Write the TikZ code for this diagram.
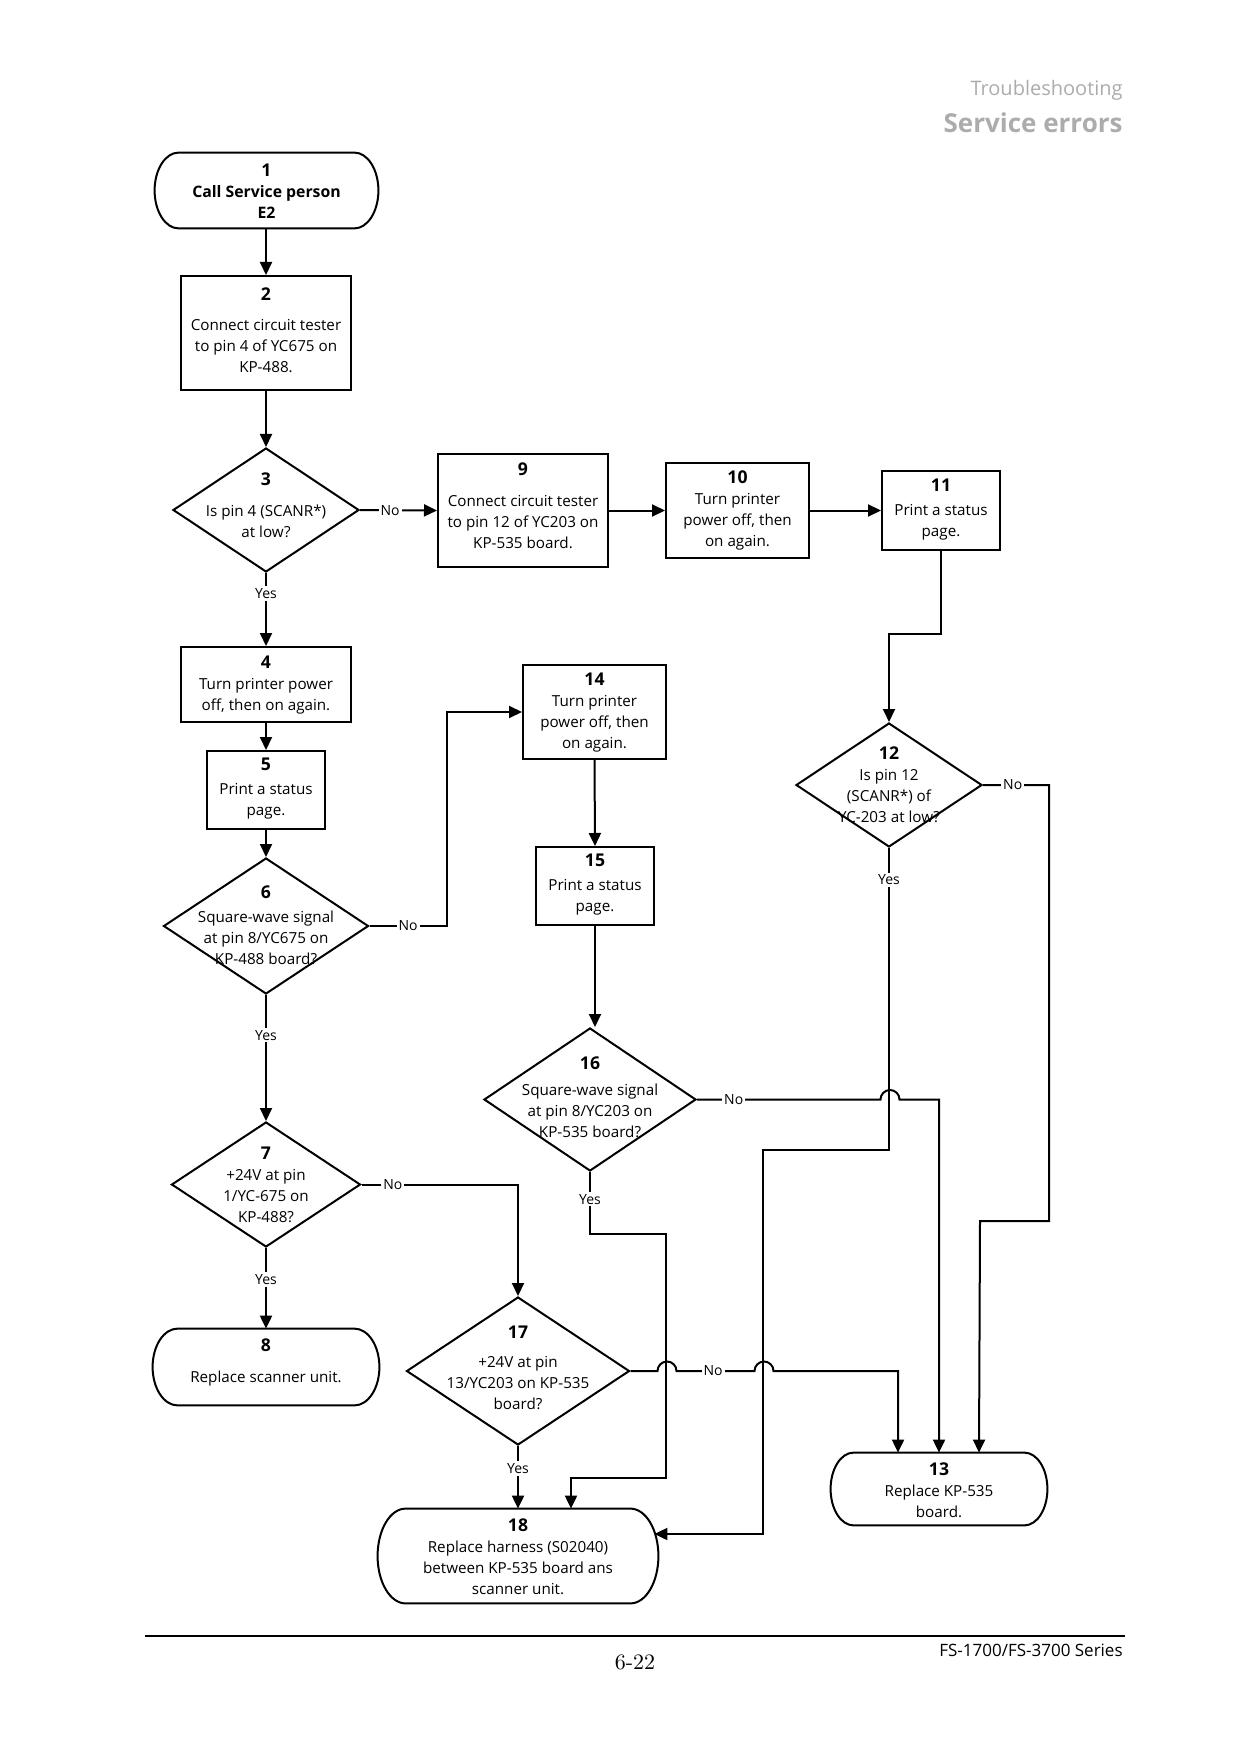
\documentclass[tikz,border=0pt]{standalone}
\usepackage{fontspec}
\setmainfont{Open Sans}
\usetikzlibrary{arrows.meta,shapes.geometric,calc}
\definecolor{hdrgray}{RGB}{172,172,172}
\newcommand\mystadium[2]{%
  \draw[outl] let \p1=(#1.north east), \p2=(#1.south west), \n1={(\y1-\y2)/2} in
    (\x2+#2,\y1) -- (\x1-#2,\y1)
    arc[start angle=90,end angle=-90,x radius=#2,y radius=\n1]
    -- (\x2+#2,\y2)
    arc[start angle=270,end angle=90,x radius=#2,y radius=\n1] -- cycle;}
\newcommand\stepnum[1]{{\fontsize{8.8}{10.5}\selectfont\bfseries #1}}
\tikzset{
  outl/.style={line width=1pt, line join=round},
  box/.style={draw, line width=1pt, rectangle, inner sep=0pt},
  dia/.style={draw, line width=1pt, diamond, inner sep=0pt},
  term/.style={rectangle, inner sep=0pt},
  txt/.style={align=center, font=\fontsize{7.6}{10.5}\selectfont, inner sep=0pt},
  lbl/.style={fill=white, inner sep=1pt, font=\fontsize{7}{8}\selectfont},
  arr/.style={line width=1pt, -{Triangle[length=6.5pt,width=6pt]}},
  ln/.style={line width=1pt},
}
\begin{document}
\begin{tikzpicture}[x=0.5pt,y=-0.5pt]
\useasboundingbox (0,0) rectangle (1240,1754);
% header
\node[anchor=east, text=hdrgray, font=\fontsize{10}{12}\selectfont, inner sep=0pt] (h1) at (1123,90) {Troubleshooting};
\node[anchor=east, text=hdrgray, font=\fontsize{13}{15}\selectfont\bfseries, inner sep=0pt] (h2) at (1123,123) {Service errors};
% footer
\coordinate (fl) at (145,1636);
\coordinate (fr) at (1125,1636);
\draw[line width=0.7pt] (fl) -- (fr);
\node[font=\fontspec{Latin Modern Roman}\fontsize{11}{13}\selectfont, inner sep=0pt] (pg) at (635,1662) {6-22};
\node[anchor=east, font=\fontsize{8.5}{10}\selectfont, inner sep=0pt] (ser) at (1123,1650) {FS-1700/FS-3700 Series};

% terminals
\node[term, minimum width=111.5pt, minimum height=37.5pt] (n1) at (266.5,190.5) {};
\mystadium{n1}{12pt}
\node[txt, font=\fontsize{7.9}{10.5}\selectfont\bfseries] (t1) at (266.5,191.5) {\stepnum{1}\\Call Service person\\E2};

\node[term, minimum width=113pt, minimum height=38pt] (n8) at (266,1367) {};
\mystadium{n8}{12.5pt}
\node[txt] (t8) at (266,1362) {\stepnum{8}\\[5pt]Replace scanner unit.};

\node[term, minimum width=108pt, minimum height=36pt] (n13) at (939,1489) {};
\mystadium{n13}{11.5pt}
\node[txt] (t13) at (939,1490.5) {\stepnum{13}\\Replace KP-535\\board.};

\node[term, minimum width=140pt, minimum height=47pt] (n18) at (518,1556) {};
\mystadium{n18}{14pt}
\node[txt] (t18) at (518,1557) {\stepnum{18}\\Replace harness (S02040)\\between KP-535 board ans\\scanner unit.};

% boxes
\node[box, minimum width=85pt, minimum height=57pt] (b2) at (266,333) {};
\node[txt] (t2) at (266,330) {\stepnum{2}\\[4.5pt]Connect circuit tester\\to pin 4 of YC675 on\\KP-488.};
\node[box, minimum width=85pt, minimum height=37.5pt] (b4) at (266,684.5) {};
\node[txt] (t4) at (266,685) {\stepnum{4}\\Turn printer power\\off, then on again.};
\node[box, minimum width=59pt, minimum height=39pt] (b5) at (266,790) {};
\node[txt] (t5) at (266,789) {\stepnum{5}\\[1.5pt]Print a status\\page.};
\node[box, minimum width=85pt, minimum height=56.5pt] (b9) at (523,510.5) {};
\node[txt] (t9) at (523,506) {\stepnum{9}\\[5pt]Connect circuit tester\\to pin 12 of YC203 on\\KP-535 board.};
\node[box, minimum width=71.5pt, minimum height=47.5pt] (b10) at (737.5,510.5) {};
\node[txt] (t10) at (737.5,510.5) {\stepnum{10}\\Turn printer\\power off, then\\on again.};
\node[box, minimum width=59pt, minimum height=39pt] (b11) at (941,510.5) {};
\node[txt] (t11) at (941,509.5) {\stepnum{11}\\[1.5pt]Print a status\\page.};
\node[box, minimum width=71.5pt, minimum height=47pt] (b14) at (594.5,712) {};
\node[txt] (t14) at (594.5,713) {\stepnum{14}\\Turn printer\\power off, then\\on again.};
\node[box, minimum width=59pt, minimum height=39pt] (b15) at (595,886) {};
\node[txt] (t15) at (595,885) {\stepnum{15}\\[1.5pt]Print a status\\page.};

% diamonds
\node[dia, minimum width=93pt, minimum height=62pt] (d3) at (266,510) {};
\node[txt] (t3) at (266,505.5) {\stepnum{3}\\[5pt]Is pin 4 (SCANR*)\\at low?};
\node[dia, minimum width=102.5pt, minimum height=68pt] (d6) at (266,926) {};
\node[txt] (t6) at (266,925) {\stepnum{6}\\[1.5pt]Square-wave signal\\at pin 8/YC675 on\\KP-488 board?};
\node[dia, minimum width=94.5pt, minimum height=62.5pt] (d7) at (266,1184.5) {};
\node[txt] (t7) at (266,1184.5) {\stepnum{7}\\+24V at pin\\1/YC-675 on\\KP-488?};
\node[dia, minimum width=93pt, minimum height=62pt] (d12) at (889,785) {};
\node[txt] (t12) at (889,784.5) {\stepnum{12}\\Is pin 12\\(SCANR*) of\\YC-203 at low?};
\node[dia, minimum width=106pt, minimum height=71.5pt] (d16) at (590,1099.5) {};
\node[txt] (t16) at (590,1097) {\stepnum{16}\\[2.5pt]Square-wave signal\\at pin 8/YC203 on\\KP-535 board?};
\node[dia, minimum width=111.5pt, minimum height=74pt] (d17) at (518,1371) {};
\node[txt] (t17) at (518,1367.5) {\stepnum{17}\\[4pt]+24V at pin\\13/YC203 on KP-535\\board?};

% connectors
\draw[arr] (n1.south -| b2.north) -- (b2.north);
\draw[arr] (b2.south) -- (d3.north);
\draw[arr] (d3.east) -- node[lbl,pos=0.39]{No} (b9.west);
\draw[arr] (d3.south) -- node[lbl,pos=0.28]{Yes} (b4.north);
\draw[arr] (b9.east) -- (b10.west);
\draw[arr] (b10.east) -- (b11.west);
\draw[arr] (b11.south) |- ([yshift=44pt]d12.north) -- (d12.north);
\draw[arr] (b4.south) -- (b5.north);
\draw[arr] (b5.south) -- (d6.north);
\draw[arr] (d6.east) -- node[lbl]{No} ++(77,0) |- (b14.west);
\draw[arr] (d6.south) -- node[lbl,pos=0.32]{Yes} (d7.north);
\draw[arr] (d7.south) -- node[lbl,pos=0.39]{Yes} (n8.north);
\draw[arr] (d7.east) -- node[lbl,pos=0.2]{No} (d7.east -| d17.north) -- (d17.north);
\draw[arr] (b14.south) -- (b15.north);
\draw[arr] (b15.south) -- (b15.south |- d16.north);
\draw[arr] (d16.east) -- node[lbl,pos=0.2]{No} ++(183.5,0)
  arc[start angle=180,end angle=0,radius=4.75pt] -- (n13.north |- d16.east) -- (n13.north);
\draw[arr] (d16.south) -- node[lbl,pos=0.44]{Yes} ++(0,61.5) -- ++(76,0) -- ++(0,244) -- ++(-95,0) -- ([xshift=26.5pt]n18.north);
\draw[arr] (d12.east) -- node[lbl,pos=0.45]{No} ++(66,0) -- ++(0,436) -- ++(-69,0) -- ([xshift=20pt]n13.north);
\draw[arr] (d12.south) -- node[lbl,pos=0.106]{Yes} ++(0,302) -- ++(-126,0) -- ++(0,384) coordinate (k12) -- ([xshift=-2pt]n18.east |- k12);
\draw[arr] (d17.east) -- ++(27,0) arc[start angle=180,end angle=0,radius=4.75pt]
  -- node[lbl,pos=0.47]{No} ++(78,0) arc[start angle=180,end angle=0,radius=4.75pt]
  -| ([xshift=-20.5pt]n13.north);
\draw[arr] (d17.south) -- node[lbl,pos=0.36]{Yes} (n18.north);
\end{tikzpicture}
\end{document}
